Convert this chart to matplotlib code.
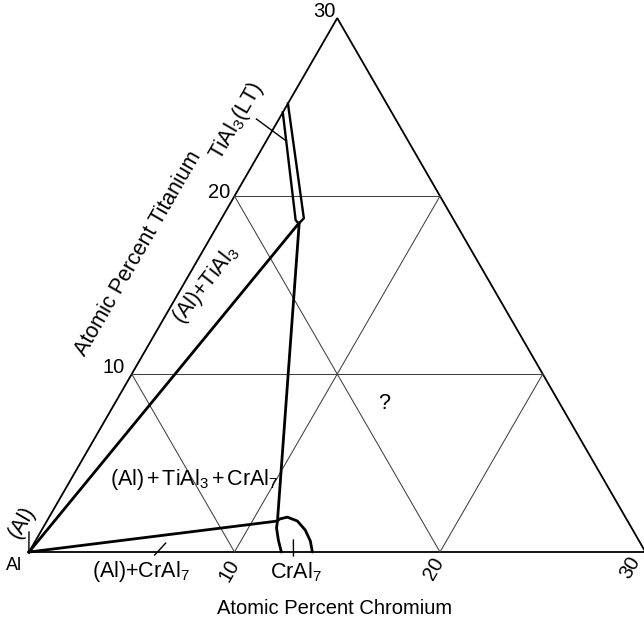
import numpy as np
import matplotlib
matplotlib.use("Agg")
import matplotlib.pyplot as plt

plt.rcParams["font.family"] = ["Liberation Sans", "DejaVu Sans"]
plt.rcParams["mathtext.fontset"] = "custom"
plt.rcParams["mathtext.rm"] = "Liberation Sans"
plt.rcParams["mathtext.it"] = "Liberation Sans:italic"

# compositions in at.% (Cr, Ti), balance Al
grid_levels = [10, 20]
axis_max = 30

# TiAl3 (LT) narrow field
tial3_cr = [0.0, 3.65, 3.9, 4.0, 0.0]
tial3_ti = [24.7, 18.65, 18.45, 18.75, 25.2]

# three-phase triangle corners: (Al), TiAl3, CrAl7
tri_cr = [0.0, 3.9, 11.22, 0.0]
tri_ti = [0.0, 18.5, 1.74, 0.0]

# CrAl7 field
cral7_cr = [12.28, 11.80, 11.37, 11.22, 11.26, 11.59, 12.19, 12.83, 13.38, 13.79]
cral7_ti = [0.0, 0.67, 1.35, 1.74, 1.85, 1.96, 1.74, 1.23, 0.62, 0.0]

# leader lines (Cr, Ti) start/end
leaders = {
    "tial3_lt": ([-1.10, 0.98], [24.33, 23.09]),
    "al_cral7": ([6.20, 6.40], [-0.17, 0.50]),
    "al": ([-0.56, -0.06], [1.12, 0.11]),
    "cral7": ([12.53, 12.98], [0.67, -0.22]),
}


def tern(cr, ti):
    cr = np.asarray(cr, dtype=float)
    ti = np.asarray(ti, dtype=float)
    return cr + ti / 2, ti * np.sqrt(3) / 2


S = 20.55  # pixels per at.%
def px(x, y):
    return (x - 29) / S, (552 - y) / S


fig = plt.figure(figsize=(6.44, 6.22), dpi=100)
ax = fig.add_axes([0, 0, 1, 1])
ax.set_xlim(-29 / S, (644 - 29) / S)
ax.set_ylim(-(622 - 552) / S, 552 / S)
ax.axis("off")

# frame
x, y = tern([0, axis_max, 0, 0], [0, 0, axis_max, 0])
ax.plot(x, y, color="black", lw=1.3, solid_joinstyle="miter")

# grid
for v in grid_levels:
    for cr, ti in [([0, axis_max - v], [v, v]),
                   ([v, v], [0, axis_max - v]),
                   ([v, 0], [0, v])]:
        x, y = tern(cr, ti)
        ax.plot(x, y, color="0.25", lw=0.75)

# phase boundaries
x, y = tern(tri_cr, tri_ti)
ax.plot(x, y, color="black", lw=2.0)
x, y = tern(tial3_cr, tial3_ti)
ax.plot(x, y, color="black", lw=1.7, solid_joinstyle="round")
x, y = tern(cral7_cr, cral7_ti)
ax.plot(x, y, color="black", lw=2.0, solid_capstyle="round")

for cr, ti in leaders.values():
    x, y = tern(cr, ti)
    ax.plot(x, y, color="black", lw=1.0)

fs = 15.5
tfs = 14.5
# tick labels
ax.text(*px(324, 12), "30", fontsize=tfs, ha="center", va="center")
ax.text(*px(219, 193), "20", fontsize=tfs, ha="center", va="center")
ax.text(*px(114, 368), "10", fontsize=tfs, ha="center", va="center")
ax.text(*px(229, 571), "10", fontsize=tfs, ha="center", va="center", rotation=60)
ax.text(*px(434, 569), "20", fontsize=tfs, ha="center", va="center", rotation=60)
ax.text(*px(630, 568), "30", fontsize=tfs, ha="center", va="center", rotation=60)

# corner / axis titles
ax.text(*px(14, 565), "Al", fontsize=13, ha="center", va="center")
ax.text(*px(335, 609), "Atomic Percent Chromium", fontsize=14.5,
        ha="center", va="center")
ax.text(*px(138, 254), "Atomic Percent Titanium", fontsize=15.5,
        ha="center", va="center", rotation=60)

# phase labels
ax.text(*px(22, 522), "(Al)", fontsize=fs, ha="center", va="center", rotation=60)
ax.text(*px(141, 572), "(Al)+CrAl$_7$", fontsize=fs, ha="center", va="center")
ax.text(*px(296, 572), "CrAl$_7$", fontsize=fs, ha="center", va="center")
ax.text(*px(194, 480), "(Al)$\\,$+$\\,$TiAl$_3$$\\,$+$\\,$CrAl$_7$", fontsize=fs,
        ha="center", va="center")
ax.text(*px(206, 285), "(Al)+TiAl$_3$", fontsize=fs, ha="center",
        va="center", rotation=52)
ax.text(*px(237, 121), "TiAl$_3$(LT)", fontsize=fs, ha="center",
        va="center", rotation=60)
ax.text(*px(384, 404), "?", fontsize=fs, ha="center", va="center")

fig.savefig("out.png", dpi=100)
